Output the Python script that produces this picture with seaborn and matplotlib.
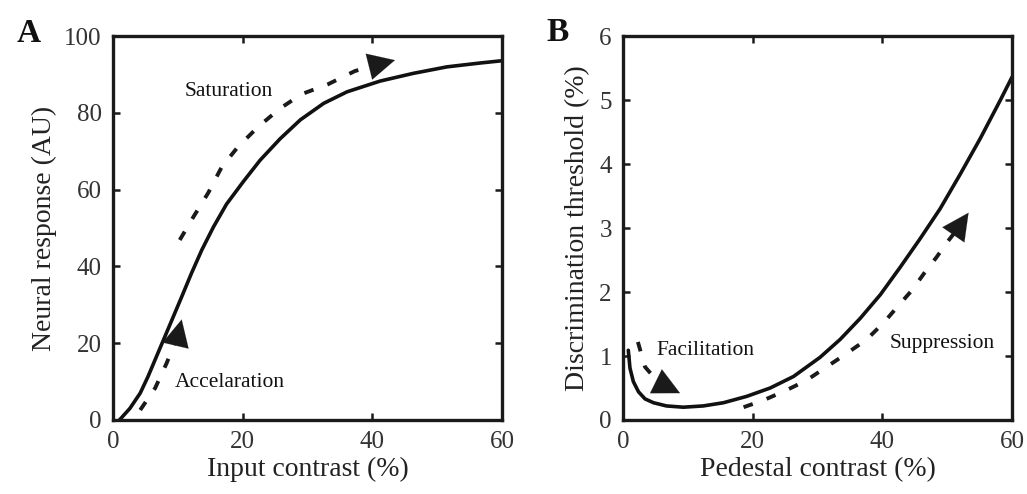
import matplotlib
matplotlib.use("Agg")
import matplotlib.pyplot as plt
import seaborn as sns

# ---- Data: panel A (contrast response function) ----
a_x = [1.0, 2.6, 4.2, 5.4, 6.7, 8.0, 9.3, 10.6, 12.1, 13.7, 15.5, 17.5, 20.1, 22.7,
       25.8, 28.9, 32.5, 36.1, 41.2, 46.3, 51.5, 56.6, 60.0]
a_y = [0.0, 3.0, 7.0, 11.3, 16.5, 21.7, 26.9, 32.1, 38.2, 44.3, 50.3, 56.2, 62.1, 67.7,
       73.3, 78.2, 82.5, 85.5, 88.3, 90.3, 92.0, 93.0, 93.6]

acc_x = [4.2, 6.5, 8.3, 10.1]
acc_y = [2.6, 8.3, 14.9, 22.6]
acc_tip = (10.6, 26.2)

sat_x = [10.3, 12.4, 14.7, 16.8, 19.3, 22.4, 25.8, 29.1, 33.2, 37.3, 40.3]
sat_y = [46.9, 52.9, 59.2, 66.0, 71.2, 76.4, 81.2, 84.9, 87.5, 90.9, 92.4]
sat_tip = (43.5, 93.75)

# ---- Data: panel B (TvC function) ----
b_x = [0.82, 1.08, 1.6, 2.4, 3.4, 4.7, 6.7, 9.3, 12.4, 15.5, 19.1, 22.7, 26.3, 30.4,
       33.5, 36.6, 39.7, 42.7, 45.8, 48.9, 52.0, 55.1, 58.2, 60.0]
b_y = [1.09, 0.81, 0.60, 0.44, 0.33, 0.27, 0.22, 0.20, 0.22, 0.27, 0.37, 0.50, 0.68, 0.98,
       1.26, 1.59, 1.96, 2.38, 2.83, 3.30, 3.84, 4.40, 5.00, 5.36]

fac_x = [2.3, 3.4, 5.2, 6.6]
fac_y = [1.22, 0.83, 0.62, 0.53]
fac_tip = (8.8, 0.42)

sup_x = [18.6, 21.7, 25.3, 28.3, 31.4, 34.5, 37.6, 40.2, 42.5, 44.5, 46.5, 48.4, 50.0, 51.4]
sup_y = [0.20, 0.31, 0.47, 0.62, 0.83, 1.04, 1.26, 1.52, 1.79, 2.02, 2.30, 2.55, 2.78, 2.96]
sup_tip = (53.3, 3.24)

x_ticks = [0, 20, 40, 60]
a_yticks = [0, 20, 40, 60, 80, 100]
b_yticks = [0, 1, 2, 3, 4, 5, 6]

sns.set_theme(style="ticks")
plt.rcParams['font.family'] = ['Liberation Serif', 'DejaVu Serif']

fig = plt.figure(figsize=(10.27, 4.94), dpi=100)
axA = fig.add_axes([0.110, 0.1498, 0.3788, 0.777])
axB = fig.add_axes([0.6066, 0.1498, 0.3788, 0.777])

ink = "#111111"
dash_col = "#1a1a1a"

def dashed(ax, xs, ys, tip):
    sns.lineplot(x=xs, y=ys, ax=ax, color=dash_col, lw=2.8, sort=False,
                 estimator=None, linestyle=(0, (2.5, 3.8)))
    ax.annotate("", xy=tip, xytext=(xs[-1], ys[-1]),
                arrowprops=dict(arrowstyle="-|>,head_length=0.6,head_width=0.3",
                                mutation_scale=32, color=dash_col, lw=0.1,
                                shrinkA=0, shrinkB=0))

# Panel A
sns.lineplot(x=a_x, y=a_y, ax=axA, color=ink, lw=2.6, estimator=None, sort=False)
dashed(axA, acc_x, acc_y, acc_tip)
dashed(axA, sat_x, sat_y, sat_tip)
axA.text(17.9, 85.6, "Saturation", fontsize=15.5, ha="center", va="center", color=ink)
axA.text(18.0, 9.7, "Accelaration", fontsize=15.5, ha="center", va="center", color=ink)
axA.set_xlim(0, 60)
axA.set_ylim(0, 100)
axA.set_xticks(x_ticks)
axA.set_yticks(a_yticks)
axA.set_xlabel("Input contrast (%)", fontsize=20, color="#222222", labelpad=3)
axA.set_ylabel("Neural response (AU)", fontsize=20, color="#222222", labelpad=5)

# Panel B
sns.lineplot(x=b_x, y=b_y, ax=axB, color=ink, lw=2.6, estimator=None, sort=False)
dashed(axB, fac_x, fac_y, fac_tip)
dashed(axB, sup_x, sup_y, sup_tip)
axB.text(12.7, 1.08, "Facilitation", fontsize=15.5, ha="center", va="center", color=ink)
axB.text(49.2, 1.2, "Suppression", fontsize=15.5, ha="center", va="center", color=ink)
axB.set_xlim(0, 60)
axB.set_ylim(0, 6)
axB.set_xticks(x_ticks)
axB.set_yticks(b_yticks)
axB.set_xlabel("Pedestal contrast (%)", fontsize=20, color="#222222", labelpad=3)
axB.set_ylabel("Discrimination threshold (%)", fontsize=20, color="#222222", labelpad=7)

for ax in (axA, axB):
    for s in ax.spines.values():
        s.set_visible(True)
        s.set_linewidth(2.4)
        s.set_color("#1a1a1a")
    ax.tick_params(direction="in", length=5, width=1.8, top=True, right=True,
                   labelsize=18, colors="#1a1a1a", labelcolor="#333333", pad=8)
    ax.set_facecolor("white")

fig.text(0.028, 0.933, "A", fontsize=24, fontweight="bold", ha="center", va="center", color=ink)
fig.text(0.543, 0.935, "B", fontsize=24, fontweight="bold", ha="center", va="center", color=ink)

fig.savefig("out.png", dpi=100, facecolor="white")
